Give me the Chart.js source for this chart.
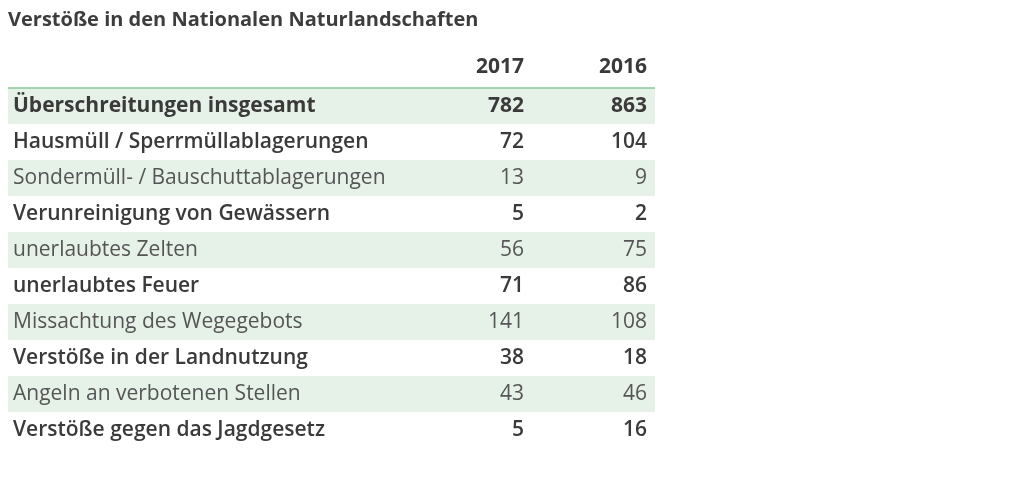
<!DOCTYPE html>
<html>
<head>
<meta charset="utf-8">
<script src="https://cdn.jsdelivr.net/npm/chart.js@4"></script>
<style>
  html, body { margin: 0; padding: 0; background: #fff; }
  #wrap { width: 1024px; height: 493px; }
</style>
</head>
<body>
<div id="wrap"><canvas id="tableChart"></canvas></div>
<script>
const title = "Verstöße in den Nationalen Naturlandschaften";
const rows = [
    "Überschreitungen insgesamt",
    "Hausmüll / Sperrmüllablagerungen",
    "Sondermüll- / Bauschuttablagerungen",
    "Verunreinigung von Gewässern",
    "unerlaubtes Zelten",
    "unerlaubtes Feuer",
    "Missachtung des Wegegebots",
    "Verstöße in der Landnutzung",
    "Angeln an verbotenen Stellen",
    "Verstöße gegen das Jagdgesetz"
];
const years = ["2017", "2016"];
const values2017 = [782, 72, 13, 5, 56, 71, 141, 38, 43, 5];
const values2016 = [863, 104, 9, 2, 75, 86, 108, 18, 46, 16];

const FONT = "'Open Sans', 'Noto Sans', sans-serif";
const SIZE = 21;

// weight per row: total row bold, white rows medium, striped rows light
function rowWeight(i) {
    if (i === 0) return 700;
    return i % 2 === 1 ? 600 : 400;
}
function rowColor(i) {
    return (i % 2 === 0 && i > 0) ? "#555" : "#3a3a3a";
}

const tablePlugin = {
    id: "tablePlugin",
    beforeDraw(chart) {
        const ctx = chart.ctx;
        const y = chart.scales.y;
        const left = chart.scales.pad.left;
        const right = chart.chartArea.right + 8;
        const step = y.getPixelForValue(1) - y.getPixelForValue(0);
        ctx.save();
        ctx.fillStyle = "#e6f2e8";
        for (let i = 0; i < rows.length; i += 2) {
            const c = y.getPixelForValue(i);
            ctx.fillRect(left, c - step / 2, right - left, step);
        }
        ctx.strokeStyle = "#86c99a";
        ctx.lineWidth = 1.5;
        ctx.beginPath();
        ctx.moveTo(left, chart.chartArea.top);
        ctx.lineTo(right, chart.chartArea.top);
        ctx.stroke();
        ctx.restore();
    },
    afterDraw(chart) {
        const ctx = chart.ctx;
        const x = chart.scales.x;
        const y = chart.scales.y;
        ctx.save();
        ctx.textAlign = "right";
        ctx.textBaseline = "middle";
        chart.data.datasets.forEach((ds, j) => {
            const px = x.getPixelForValue(j + 1);
            ds.data.forEach((v, i) => {
                ctx.font = rowWeight(i) + " " + SIZE + "px " + FONT;
                ctx.fillStyle = rowColor(i);
                ctx.fillText(String(v), px, y.getPixelForValue(i));
            });
        });
        ctx.restore();
    }
};

new Chart(document.getElementById("tableChart"), {
    type: "bar",
    data: {
        labels: rows,
        datasets: [
            { label: years[0], data: values2017, hidden: true },
            { label: years[1], data: values2016, hidden: true }
        ]
    },
    options: {
        indexAxis: "y",
        responsive: true,
        maintainAspectRatio: false,
        animation: false,
        events: [],
        layout: { padding: { top: 0, left: 8, right: 377, bottom: 45 } },
        plugins: {
            legend: { display: false },
            tooltip: { enabled: false },
            title: {
                display: true,
                text: title,
                align: "start",
                color: "#3d3d3d",
                font: { family: FONT, size: 20, weight: "bold", lineHeight: 1.2 },
                padding: { top: 8, bottom: 20 }
            }
        },
        scales: {
            x: {
                type: "category",
                labels: [""].concat(years),
                position: "top",
                offset: false,
                grid: { display: false },
                border: { display: false },
                afterFit: s => { s.height = 36; },
                ticks: {
                    align: "end",
                    padding: 0,
                    autoSkip: false,
                    maxRotation: 0,
                    color: "#3a3a3a",
                    font: { family: FONT, size: SIZE, weight: 700 }
                }
            },
            y: {
                type: "category",
                offset: true,
                weight: 0,
                grid: { display: false },
                border: { display: false },
                afterFit: s => { s.width = 388; },
                ticks: {
                    crossAlign: "far",
                    padding: 0,
                    autoSkip: false,
                    color: ctx => rowColor(ctx.index),
                    font: ctx => ({ family: FONT, size: SIZE, weight: rowWeight(ctx.index) })
                }
            },
            pad: {
                type: "category",
                axis: "y",
                position: "left",
                weight: 1,
                grid: { display: false },
                border: { display: false },
                ticks: { display: false },
                afterFit: s => { s.width = 5; }
            }
        }
    },
    plugins: [tablePlugin]
});
</script>
</body>
</html>
